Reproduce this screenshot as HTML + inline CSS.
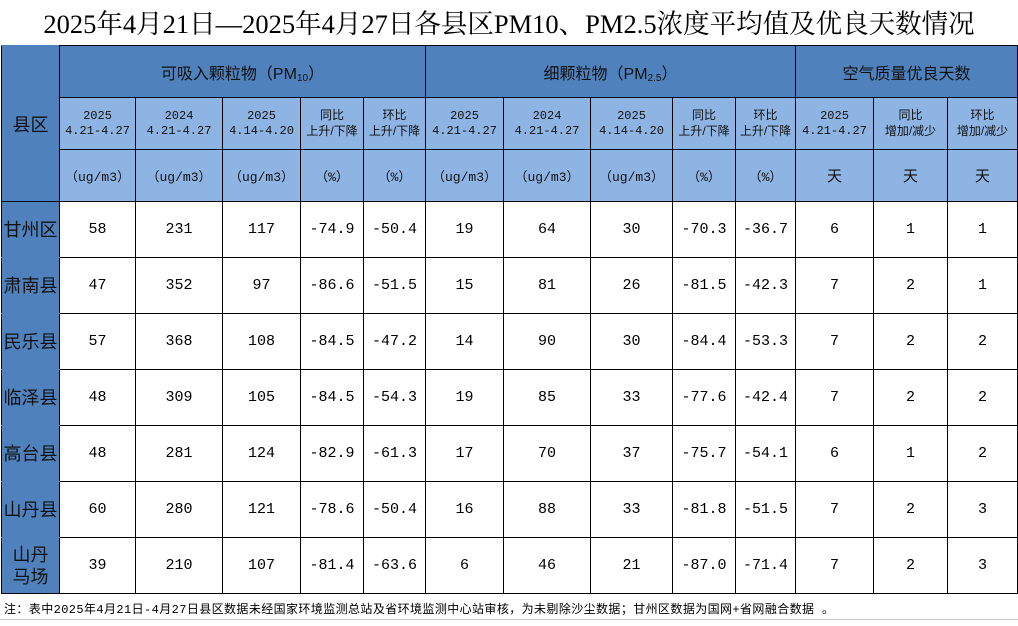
<!DOCTYPE html>
<html><head><meta charset="utf-8"><style>
body{margin:0;width:1018px;height:626px;background:#fff;overflow:hidden;position:relative;font-family:"Liberation Sans","Noto Sans CJK SC",sans-serif}
.title{position:absolute;left:0;top:0;width:1018px;height:45px;text-align:center;line-height:48px;font-family:"Liberation Serif","Noto Serif CJK SC",serif;font-size:26.5px;color:#000}
table{position:absolute;left:1px;top:45px;border-collapse:collapse;table-layout:fixed}
td{border:1px solid #000;padding:0;text-align:center;vertical-align:middle;box-sizing:border-box;overflow:hidden}
.h1{background:#4f81bd;height:52px;font-size:16px;color:#111}
.h2{background:#8db4e2;height:52px;font-size:12px;line-height:15px;color:#111;font-family:"Liberation Mono","Noto Sans CJK SC",monospace}
.h2 span{font-family:"Liberation Sans","Noto Sans CJK SC",sans-serif}
.h3{background:#8db4e2;height:52px;font-size:13px;color:#111;font-family:"Liberation Mono","Noto Sans CJK SC",monospace}
.lc{background:#4f81bd;font-size:18px;color:#111;border-top-color:#4f81bd;border-bottom-color:#4f81bd}
.d td{height:56px;font-family:"Liberation Mono","Noto Serif CJK SC",monospace;font-size:15px}
.d td.lc{font-family:"Liberation Sans","Noto Sans CJK SC",sans-serif;font-size:18px;line-height:22px}
sub{font-size:10px;vertical-align:-2px}
.note{position:absolute;left:4px;top:600px;font-size:12px;color:#000;font-family:"Liberation Mono","Noto Sans CJK SC",monospace;letter-spacing:0.4px}
.bl{position:absolute;left:0;top:619px;width:1018px;height:1px;background:#ccc}
</style></head><body>
<div class="title">2025年4月21日—2025年4月27日各县区PM10、PM2.5浓度平均值及优良天数情况</div>
<table>
<colgroup><col style="width:58px"><col style="width:76px"><col style="width:87px"><col style="width:78px"><col style="width:63px"><col style="width:62px"><col style="width:78px"><col style="width:87px"><col style="width:82px"><col style="width:63px"><col style="width:60px"><col style="width:78px"><col style="width:74px"><col style="width:70px"></colgroup>
<tr><td class="lc" rowspan="3" style="border-bottom-color:#000">县区</td><td class="h1" colspan="5">可吸入颗粒物（PM<sub>10</sub>）</td><td class="h1" colspan="5">细颗粒物（PM<sub>2.5</sub>）</td><td class="h1" colspan="3">空气质量优良天数</td></tr>
<tr><td class="h2">2025<br>4.21-4.27</td><td class="h2">2024<br>4.21-4.27</td><td class="h2">2025<br>4.14-4.20</td><td class="h2"><span>同比<br>上升/下降</span></td><td class="h2"><span>环比<br>上升/下降</span></td><td class="h2">2025<br>4.21-4.27</td><td class="h2">2024<br>4.21-4.27</td><td class="h2">2025<br>4.14-4.20</td><td class="h2"><span>同比<br>上升/下降</span></td><td class="h2"><span>环比<br>上升/下降</span></td><td class="h2">2025<br>4.21-4.27</td><td class="h2"><span>同比<br>增加/减少</span></td><td class="h2"><span>环比<br>增加/减少</span></td></tr>
<tr><td class="h3">（ug/m3）</td><td class="h3">（ug/m3）</td><td class="h3">（ug/m3）</td><td class="h3">（%）</td><td class="h3">（%）</td><td class="h3">（ug/m3）</td><td class="h3">（ug/m3）</td><td class="h3">（ug/m3）</td><td class="h3">（%）</td><td class="h3">（%）</td><td class="h3" style="font-size:15px">天</td><td class="h3" style="font-size:15px">天</td><td class="h3" style="font-size:15px">天</td></tr>
<tr class="d"><td class="lc">甘州区</td><td>58</td><td>231</td><td>117</td><td>-74.9</td><td>-50.4</td><td>19</td><td>64</td><td>30</td><td>-70.3</td><td>-36.7</td><td>6</td><td>1</td><td>1</td></tr>
<tr class="d"><td class="lc">肃南县</td><td>47</td><td>352</td><td>97</td><td>-86.6</td><td>-51.5</td><td>15</td><td>81</td><td>26</td><td>-81.5</td><td>-42.3</td><td>7</td><td>2</td><td>1</td></tr>
<tr class="d"><td class="lc">民乐县</td><td>57</td><td>368</td><td>108</td><td>-84.5</td><td>-47.2</td><td>14</td><td>90</td><td>30</td><td>-84.4</td><td>-53.3</td><td>7</td><td>2</td><td>2</td></tr>
<tr class="d"><td class="lc">临泽县</td><td>48</td><td>309</td><td>105</td><td>-84.5</td><td>-54.3</td><td>19</td><td>85</td><td>33</td><td>-77.6</td><td>-42.4</td><td>7</td><td>2</td><td>2</td></tr>
<tr class="d"><td class="lc">高台县</td><td>48</td><td>281</td><td>124</td><td>-82.9</td><td>-61.3</td><td>17</td><td>70</td><td>37</td><td>-75.7</td><td>-54.1</td><td>6</td><td>1</td><td>2</td></tr>
<tr class="d"><td class="lc">山丹县</td><td>60</td><td>280</td><td>121</td><td>-78.6</td><td>-50.4</td><td>16</td><td>88</td><td>33</td><td>-81.8</td><td>-51.5</td><td>7</td><td>2</td><td>3</td></tr>
<tr class="d"><td class="lc" style="border-bottom-color:#000">山丹<br>马场</td><td>39</td><td>210</td><td>107</td><td>-81.4</td><td>-63.6</td><td>6</td><td>46</td><td>21</td><td>-87.0</td><td>-71.4</td><td>7</td><td>2</td><td>3</td></tr>
</table>
<div class="note">注：表中2025年4月21日-4月27日县区数据未经国家环境监测总站及省环境监测中心站审核，为未剔除沙尘数据；甘州区数据为国网+省网融合数据 。</div>
<div class="bl"></div>
</body></html>
